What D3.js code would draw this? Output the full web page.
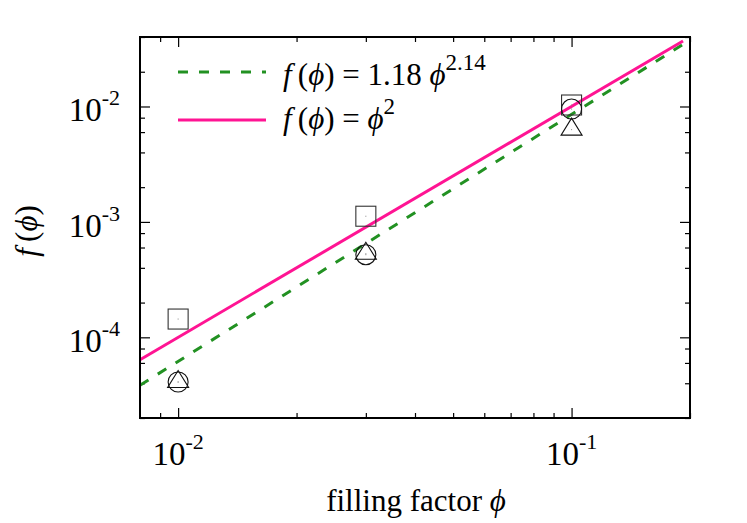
<!DOCTYPE html>
<html>
<head>
<meta charset="utf-8">
<script src="https://cdn.jsdelivr.net/npm/d3@7"></script>
<style>
  body { margin: 0; background: #fff; }
  svg { display: block; font-family: "Liberation Serif", "Times New Roman", serif; }
</style>
</head>
<body>
<div id="chart"></div>
<script>
// measured values (filling factor vs f(phi))
var phi = [0.01, 0.03, 0.1];
var squareVals = [1.44e-4, 1.12e-3, 1.03e-2];
var circleVals = [4.1e-5, 5.2e-4, 9.5e-3];
var triangleVals = [4.1e-5, 5.3e-4, 6.3e-3];

// end points of the two straight lines (log-log)
var lineX = [0.008, 0.192];
var fitY = [3.84e-5, 3.45e-2];
var squareLawY = [6.4e-5, 3.69e-2];

// axes
var xDomain = [0.008, 0.2];
var yDomain = [2e-5, 0.04];
var xMajor = [0.01, 0.1];
var xMajorExp = ["-2", "-1"];
var xMinor = [0.009, 0.02, 0.03, 0.04, 0.05, 0.06, 0.07, 0.08, 0.09, 0.2];
var yMajor = [1e-4, 1e-3, 1e-2];
var yMajorExp = ["-4", "-3", "-2"];
var yMinor = [2e-5, 4e-5, 6e-5, 8e-5, 2e-4, 4e-4, 6e-4, 8e-4, 2e-3, 4e-3, 6e-3, 8e-3, 2e-2, 4e-2];

var PHI = "\u03D5";

var margin = {top: 37, bottom: 105, left: 140, right: 57},
  width = 747 - margin.left - margin.right,
  height = 523 - margin.top - margin.bottom;

var svg = d3.select("#chart")
  .append("svg")
    .attr("width", 747)
    .attr("height", 523);

var chart = svg.append("g")
  .attr("transform", "translate(" + margin.left + "," + margin.top + ")");

var x = d3.scaleLog().domain(xDomain).range([0, width]);
var y = d3.scaleLog().domain(yDomain).range([height, 0]);

// tick marks on all four sides, pointing inward
function tickAxis(axisFn, scale, values, size, translate) {
  var g = chart.append("g")
    .attr("transform", translate)
    .call(axisFn(scale).tickValues(values).tickSize(size).tickFormat(""));
  g.select(".domain").remove();
  g.selectAll("line").attr("stroke", "#000").attr("stroke-width", 1.2);
}
tickAxis(d3.axisBottom, x, xMajor, -10, "translate(0," + height + ")");
tickAxis(d3.axisBottom, x, xMinor, -5, "translate(0," + height + ")");
tickAxis(d3.axisTop, x, xMajor, -10, "translate(0,0)");
tickAxis(d3.axisTop, x, xMinor, -5, "translate(0,0)");
tickAxis(d3.axisLeft, y, yMajor, -10, "translate(0,0)");
tickAxis(d3.axisLeft, y, yMinor, -5, "translate(0,0)");
tickAxis(d3.axisRight, y, yMajor, -10, "translate(" + width + ",0)");
tickAxis(d3.axisRight, y, yMinor, -5, "translate(" + width + ",0)");

// tick labels with superscript exponents
xMajor.forEach(function(v, i) {
  var t = chart.append("text")
    .attr("x", x(v))
    .attr("y", height + 47)
    .attr("text-anchor", "middle")
    .style("font-size", "33px");
  t.append("tspan").text("10");
  t.append("tspan").attr("dy", -16).style("font-size", "22px").text(xMajorExp[i]);
});
yMajor.forEach(function(v, i) {
  var t = chart.append("text")
    .attr("x", -20)
    .attr("y", y(v) + 15)
    .attr("text-anchor", "end")
    .style("font-size", "33px");
  t.append("tspan").text("10");
  t.append("tspan").attr("dy", -16).style("font-size", "22px").text(yMajorExp[i]);
});

// lines
var line = d3.line()
  .x(function(d) { return x(d[0]); })
  .y(function(d) { return y(d[1]); });

chart.append("path")
  .datum(d3.zip(lineX, fitY))
  .attr("d", line)
  .attr("fill", "none")
  .attr("stroke", "#229122")
  .attr("stroke-width", 3)
  .attr("stroke-dasharray", "10,11");

chart.append("path")
  .datum(d3.zip(lineX, squareLawY))
  .attr("d", line)
  .attr("fill", "none")
  .attr("stroke", "#ff1493")
  .attr("stroke-width", 3);

// markers
var markerColor = "#333";
var squares = d3.zip(phi, squareVals);
chart.selectAll(".sq")
  .data(squares)
  .enter().append("rect")
    .attr("class", "sq")
    .attr("x", function(d) { return x(d[0]) - 10; })
    .attr("y", function(d) { return y(d[1]) - 10; })
    .attr("width", 20)
    .attr("height", 20)
    .attr("fill", "none")
    .attr("stroke", markerColor)
    .attr("stroke-width", 1.1);

var circles = d3.zip(phi, circleVals);
chart.selectAll(".circ")
  .data(circles)
  .enter().append("circle")
    .attr("class", "circ")
    .attr("cx", function(d) { return x(d[0]); })
    .attr("cy", function(d) { return y(d[1]); })
    .attr("r", 10)
    .attr("fill", "none")
    .attr("stroke", "#111")
    .attr("stroke-width", 1.1);

var triangles = d3.zip(phi, triangleVals);
chart.selectAll(".tri")
  .data(triangles)
  .enter().append("path")
    .attr("class", "tri")
    .attr("d", function(d) {
      var cx = x(d[0]), cy = y(d[1]);
      return "M" + cx + "," + (cy - 11.5) + "L" + (cx + 10.5) + "," + (cy + 5.5) +
        "L" + (cx - 10.5) + "," + (cy + 5.5) + "Z";
    })
    .attr("fill", "none")
    .attr("stroke", "#111")
    .attr("stroke-width", 1.1);

// tiny centre dots
chart.selectAll(".dot")
  .data(squares.concat(circles, triangles))
  .enter().append("rect")
    .attr("class", "dot")
    .attr("x", function(d) { return x(d[0]) - 0.5; })
    .attr("y", function(d) { return y(d[1]) - 0.5; })
    .attr("width", 1)
    .attr("height", 1)
    .attr("fill", "#888");

// frame
chart.append("rect")
  .attr("width", width)
  .attr("height", height)
  .attr("fill", "none")
  .attr("stroke", "#000")
  .attr("stroke-width", 2);

// legend
function fOfPhi(t) {
  t.append("tspan").style("font-style", "italic").text("f");
  t.append("tspan").text("\u2009(");
  t.append("tspan").style("font-style", "italic").text(PHI);
  t.append("tspan").text(") = ");
}
var legend = svg.append("g");
legend.append("line")
  .attr("x1", 178).attr("x2", 266).attr("y1", 72).attr("y2", 72)
  .attr("stroke", "#229122").attr("stroke-width", 3)
  .attr("stroke-dasharray", "10,11");
legend.append("line")
  .attr("x1", 178).attr("x2", 266).attr("y1", 120).attr("y2", 120)
  .attr("stroke", "#ff1493").attr("stroke-width", 3);

var l1 = legend.append("text").attr("x", 283).attr("y", 85).style("font-size", "31px");
fOfPhi(l1);
l1.append("tspan").text("1.18 ");
l1.append("tspan").style("font-style", "italic").text(PHI);
l1.append("tspan").attr("dy", -15).style("font-size", "23px").text("2.14");

var l2 = legend.append("text").attr("x", 283).attr("y", 129).style("font-size", "31px");
fOfPhi(l2);
l2.append("tspan").style("font-style", "italic").text(PHI);
l2.append("tspan").attr("dy", -15).style("font-size", "23px").text("2");

// axis titles
var xt = svg.append("text")
  .attr("x", 416)
  .attr("y", 511)
  .attr("text-anchor", "middle")
  .style("font-size", "31px")
  .text("filling factor ");
xt.append("tspan").style("font-style", "italic").text(PHI);

var yt = svg.append("text")
  .attr("transform", "translate(37,231) rotate(-90)")
  .attr("text-anchor", "middle")
  .style("font-size", "31px");
yt.append("tspan").style("font-style", "italic").text("f");
yt.append("tspan").text("\u2009(");
yt.append("tspan").style("font-style", "italic").text(PHI);
yt.append("tspan").text(")");
</script>
</body>
</html>
